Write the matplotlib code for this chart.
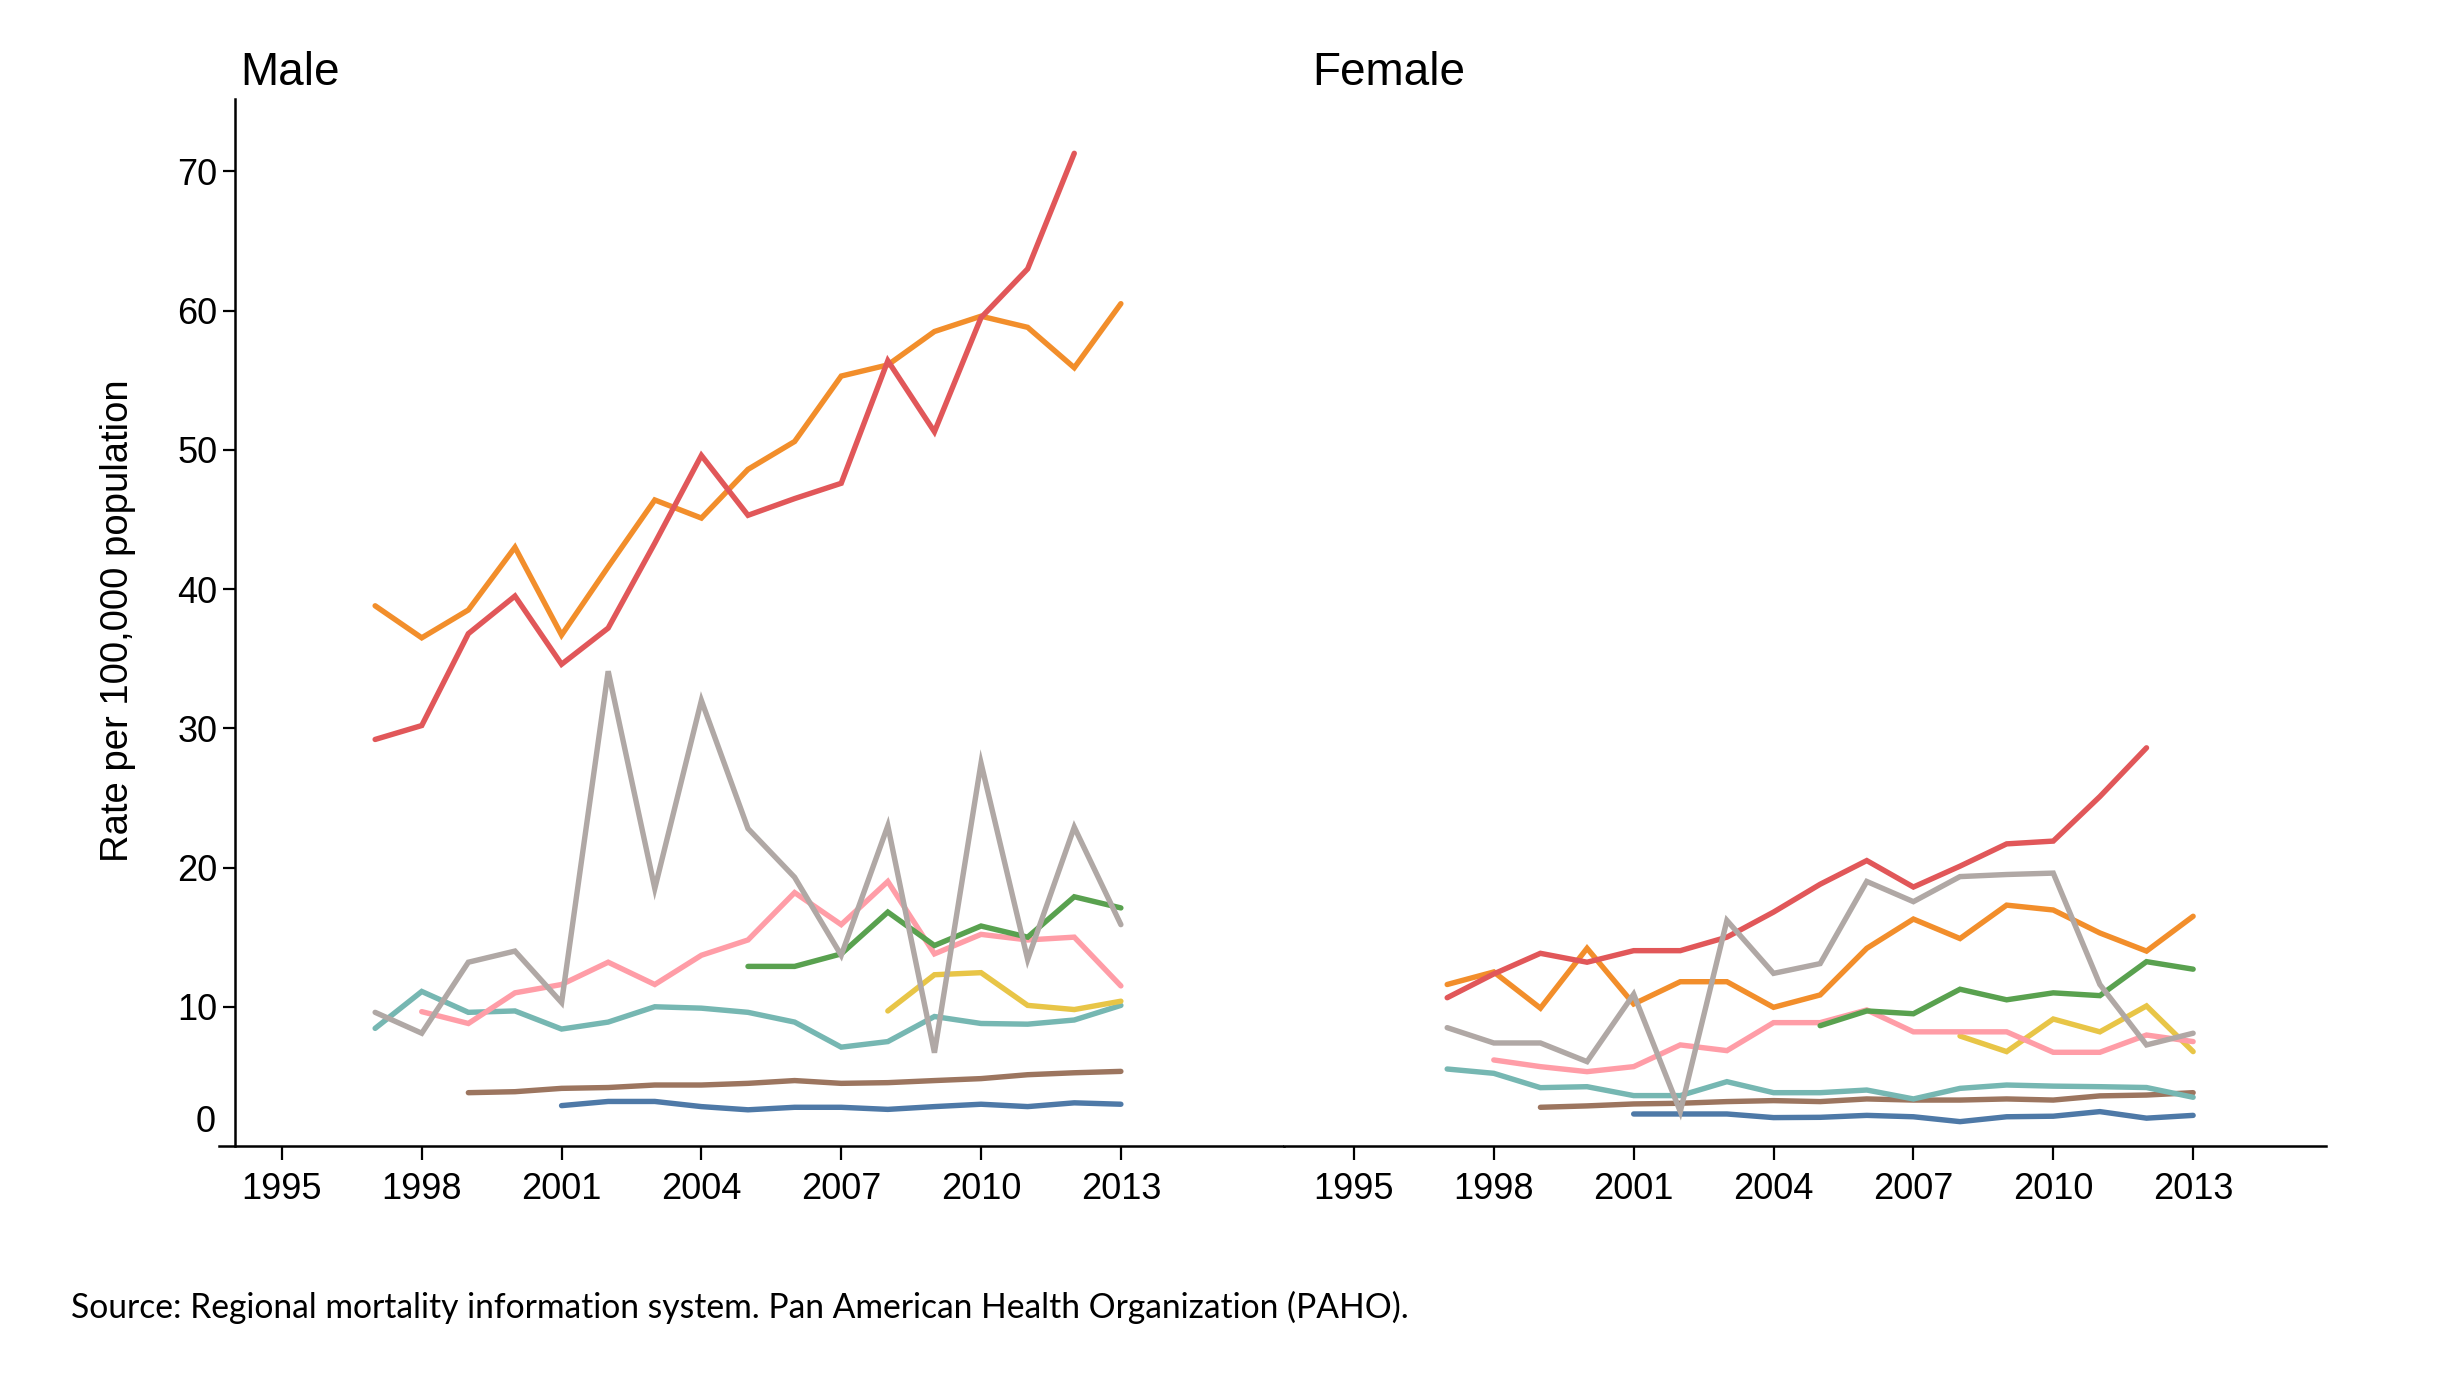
import numpy as np
import matplotlib
matplotlib.use("Agg")
import matplotlib.pyplot as plt

nan = np.nan

years = list(range(1997, 2014))
tick_years = [1995, 1998, 2001, 2004, 2007, 2010, 2013]

# series colours (tableau-like)
colors = {
    "blue": "#4e79a7",
    "brown": "#9c755f",
    "teal": "#76b7b2",
    "yellow": "#e8c547",
    "pink": "#ff9da7",
    "green": "#59a14f",
    "orange": "#f28e2b",
    "red": "#e15759",
    "grey": "#b0a8a5",
}

# Male rates per 100,000, 1997-2013
male_red = [29.2, 30.2, 36.8, 39.5, 34.6, 37.2, 43.3, 49.6, 45.3, 46.5, 47.6, 56.4, 51.3, 59.5, 63.0, 71.3, nan]
male_orange = [38.8, 36.5, 38.5, 43.0, 36.7, 41.6, 46.4, 45.1, 48.6, 50.6, 55.3, 56.1, 58.5, 59.6, 58.8, 55.9, 60.5]
male_grey = [9.6, 8.1, 13.2, 14.0, 10.3, 34.1, 18.5, 32.0, 22.8, 19.3, 13.7, 23.0, 6.7, 27.5, 13.4, 22.9, 15.9]
male_pink = [nan, 9.65, 8.8, 11.0, 11.6, 13.2, 11.6, 13.7, 14.8, 18.2, 15.9, 19.0, 13.8, 15.2, 14.8, 15.0, 11.5]
male_green = [nan] * 8 + [12.9, 12.9, 13.8, 16.8, 14.4, 15.8, 15.0, 17.9, 17.1]
male_yellow = [nan] * 11 + [9.7, 12.3, 12.45, 10.1, 9.8, 10.4]
male_teal = [8.45, 11.1, 9.6, 9.7, 8.4, 8.9, 10.0, 9.9, 9.6, 8.9, 7.1, 7.5, 9.3, 8.8, 8.75, 9.05, 10.1]
male_brown = [nan, nan, 3.83, 3.9, 4.14, 4.2, 4.38, 4.38, 4.5, 4.7, 4.5, 4.55, 4.7, 4.84, 5.12, 5.26, 5.36]
male_blue = [nan] * 4 + [2.9, 3.2, 3.2, 2.83, 2.6, 2.78, 2.78, 2.63, 2.83, 3.0, 2.83, 3.1, 3.0]

# Female rates per 100,000, 1997-2013
female_red = [10.65, 12.36, 13.84, 13.2, 14.03, 14.03, 15.0, 16.8, 18.8, 20.5, 18.6, 20.1, 21.7, 21.9, 25.1, 28.6, nan]
female_orange = [11.6, 12.5, 9.9, 14.2, 10.2, 11.8, 11.8, 9.96, 10.85, 14.2, 16.3, 14.9, 17.3, 16.95, 15.3, 14.0, 16.5]
female_grey = [8.5, 7.4, 7.4, 6.06, 10.9, 2.47, 16.2, 12.4, 13.1, 19.0, 17.55, 19.35, 19.5, 19.6, 11.6, 7.26, 8.1]
female_pink = [nan, 6.18, 5.7, 5.34, 5.7, 7.26, 6.85, 8.86, 8.86, 9.77, 8.2, 8.2, 8.2, 6.73, 6.73, 7.97, 7.5]
female_green = [nan] * 8 + [8.64, 9.7, 9.5, 11.26, 10.5, 11.0, 10.8, 13.24, 12.7]
female_yellow = [nan] * 11 + [7.9, 6.78, 9.12, 8.2, 10.06, 6.78]
female_teal = [5.53, 5.22, 4.19, 4.26, 3.62, 3.62, 4.62, 3.83, 3.83, 4.02, 3.38, 4.14, 4.38, 4.3, 4.26, 4.2, 3.5]
female_brown = [nan, nan, 2.78, 2.88, 3.02, 3.07, 3.19, 3.26, 3.19, 3.38, 3.3, 3.3, 3.38, 3.3, 3.6, 3.66, 3.83]
female_blue = [nan] * 4 + [2.3, 2.3, 2.3, 2.04, 2.06, 2.2, 2.1, 1.75, 2.1, 2.14, 2.47, 2.0, 2.2]

male = [("blue", male_blue), ("brown", male_brown), ("teal", male_teal), ("yellow", male_yellow),
        ("pink", male_pink), ("green", male_green), ("orange", male_orange), ("red", male_red),
        ("grey", male_grey)]
female = [("blue", female_blue), ("brown", female_brown), ("teal", female_teal), ("yellow", female_yellow),
          ("pink", female_pink), ("green", female_green), ("orange", female_orange), ("red", female_red),
          ("grey", female_grey)]

plt.rcParams['font.family'] = ['Liberation Sans', 'DejaVu Sans']

fig = plt.figure(figsize=(24.54, 13.76), dpi=100)
ax1 = fig.add_axes([0.08924, 0.16715, 0.43399, 0.7609])
ax2 = fig.add_axes([0.52323, 0.16715, 0.42461, 0.7609])

for ax, series, xlim, title in [(ax1, male, (1993.65, 2016.5), "Male"),
                                (ax2, female, (1993.5, 2015.85), "Female")]:
    for name, vals in series:
        ax.plot(years, vals, color=colors[name], lw=3.9, solid_capstyle='round', solid_joinstyle='miter')
    ax.set_xlim(*xlim)
    ax.set_ylim(0, 75.2)
    ax.set_xticks(tick_years)
    ax.set_xticklabels([str(y) for y in tick_years])
    ax.tick_params(axis='x', length=10, width=1.6, pad=9, labelsize=26, direction='out')
    for s in ['top', 'right']:
        ax.spines[s].set_visible(False)
    ax.spines['bottom'].set_linewidth(1.8)
    ax.text(1994.1, 76.2, title, fontsize=33, ha='left', va='baseline')

ax1.spines['left'].set_position(('data', 1994))
ax1.spines['left'].set_linewidth(1.8)
ax1.set_yticks([10, 20, 30, 40, 50, 60, 70])
ax1.tick_params(axis='y', length=9, width=1.6, pad=4, labelsize=26)
ax1.annotate("0", xy=(1994, 1.7), xycoords='data', xytext=(-14.5, 0),
             textcoords='offset points', ha='right', va='center', fontsize=26)

ax2.spines['left'].set_visible(False)
ax2.set_yticks([])

fig.text(0.0481, 0.549, "Rate per 100,000 population", rotation=90,
         ha='center', va='center', fontsize=27.5)

fig.text(0.0289, 0.05,
         "Source: Regional mortality information system. Pan American Health Organization (PAHO).",
         ha='left', va='center', fontsize=24.2, family=['Lato', 'DejaVu Sans'])

fig.savefig("out.png", dpi=100)
